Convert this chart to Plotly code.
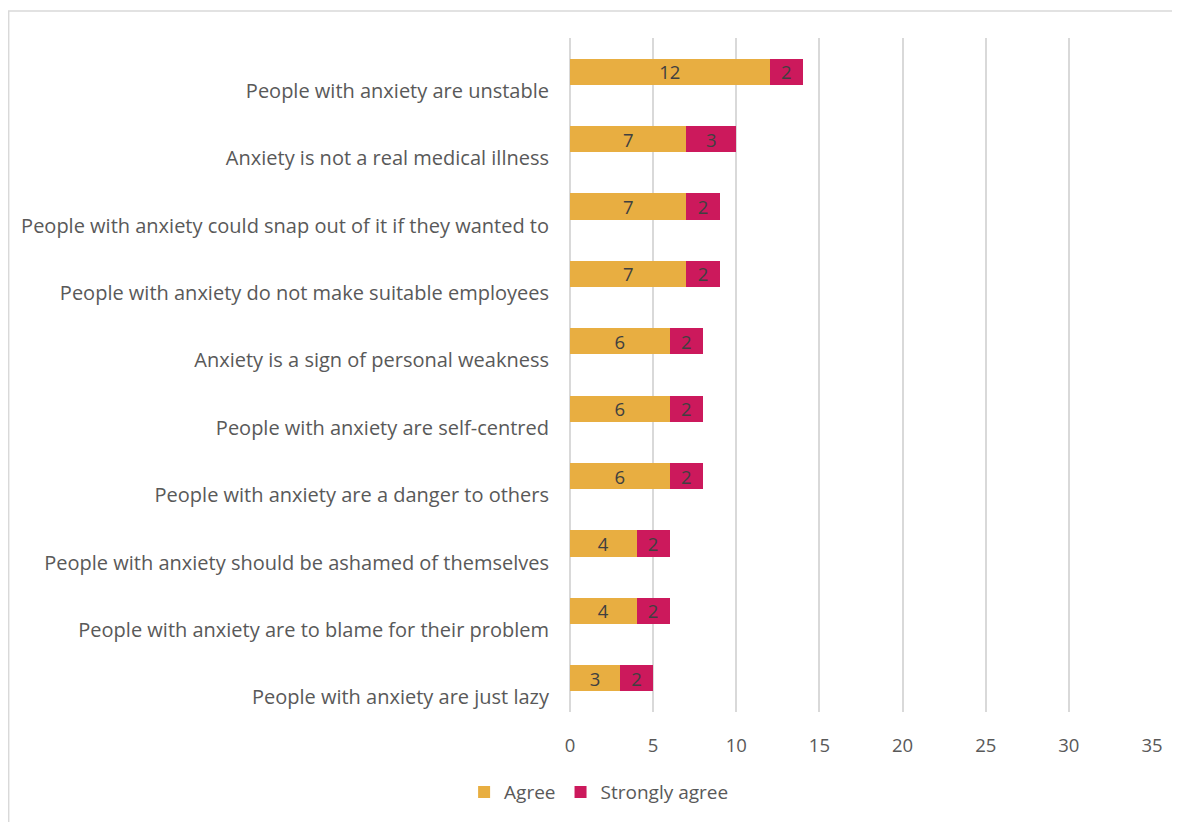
import plotly.graph_objects as go

categories = [
    "People with anxiety are unstable",
    "Anxiety is not a real medical illness",
    "People with anxiety could snap out of it if they wanted to",
    "People with anxiety do not make suitable employees",
    "Anxiety is a sign of personal weakness",
    "People with anxiety are self-centred",
    "People with anxiety are a danger to others",
    "People with anxiety should be ashamed of themselves",
    "People with anxiety are to blame for their problem",
    "People with anxiety are just lazy",
]
agree = [12, 7, 7, 7, 6, 6, 6, 4, 4, 3]
strongly_agree = [2, 3, 2, 2, 2, 2, 2, 2, 2, 2]
x_ticks = [0, 5, 10, 15, 20, 25, 30, 35]

FONT = "Open Sans"
label_font = dict(family=FONT, size=18.5, color="#404040")

fig = go.Figure()
fig.add_trace(go.Bar(
    y=categories, x=agree, name="Agree", orientation="h",
    marker=dict(color="#E8AE41", line=dict(width=0)),
    width=0.39, text=agree, textposition="inside", insidetextanchor="middle",
    textangle=0, textfont=label_font, constraintext="none",
))
fig.add_trace(go.Bar(
    y=categories, x=strongly_agree, name="Strongly agree", orientation="h",
    marker=dict(color="#CC195C", line=dict(width=0)),
    width=0.39, text=strongly_agree, textposition="inside", insidetextanchor="middle",
    textangle=0, textfont=label_font, constraintext="none",
))

fig.update_layout(
    barmode="stack",
    width=1180, height=822,
    margin=dict(l=562, r=36, t=30, b=118),
    paper_bgcolor="white", plot_bgcolor="white",
    font=dict(family=FONT, size=18, color="#595959"),
    showlegend=True,
    legend=dict(orientation="h", x=0.05, xanchor="center", y=-0.119, yanchor="middle",
                font=dict(family=FONT, size=19, color="#595959"),
                traceorder="normal", itemwidth=30),
    uniformtext=dict(mode=False),
    shapes=[dict(type="rect", xref="paper", yref="paper",
                 x0=-0.9645, x1=1.2, y0=-0.3, y1=1.04,
                 line=dict(color="#d9d9d9", width=1.5), fillcolor="rgba(0,0,0,0)",
                 layer="below")],
)
fig.update_xaxes(
    range=[0, 35], tickvals=x_ticks, showgrid=True, gridcolor="#d9d9d9", gridwidth=1.5,
    zeroline=True, zerolinecolor="#d9d9d9", zerolinewidth=1.5,
    showline=False, ticks="", ticklabelstandoff=20,
    tickfont=dict(family=FONT, size=18.5, color="#595959"),
)
fig.update_yaxes(
    autorange="reversed", showgrid=False, showline=False, ticks="",
    ticklabelstandoff=20, ticklabelshift=-19,
    tickfont=dict(family=FONT, size=20, color="#595959"),
)

fig.write_html("out.html")
